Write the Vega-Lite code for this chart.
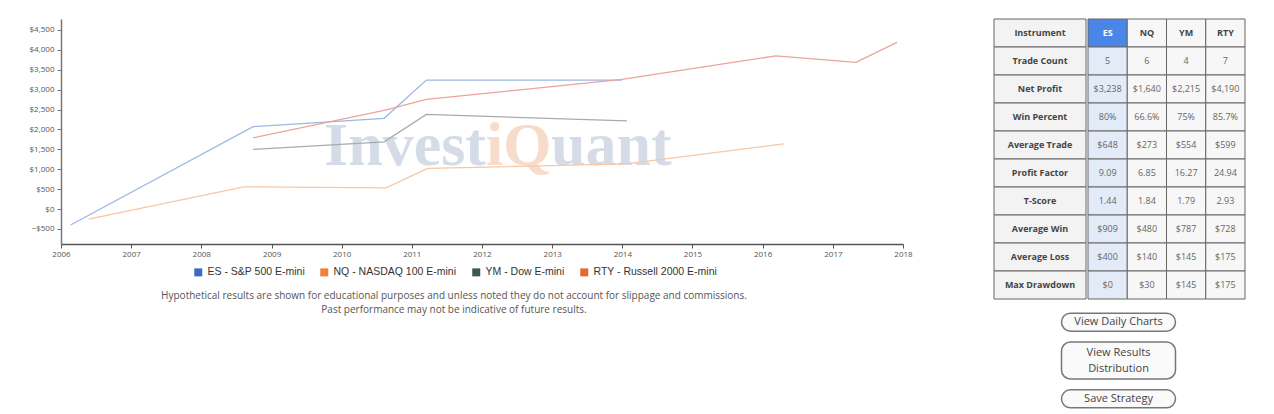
{
  "$schema": "https://vega.github.io/schema/vega-lite/v6.json",
  "background": "white",
  "padding": {"left": 29, "top": 18, "right": 0, "bottom": 0},
  "spacing": 80,
  "config": {"view": {"stroke": null}, "font": "Open Sans"},
  "datasets": {
    "pnl": [
      {"instrument": "ES - S&P 500 E-mini", "date": "2006-02-20", "value": -400},
      {"instrument": "ES - S&P 500 E-mini", "date": "2008-09-27", "value": 2070},
      {"instrument": "ES - S&P 500 E-mini", "date": "2010-08-10", "value": 2280},
      {"instrument": "ES - S&P 500 E-mini", "date": "2011-03-18", "value": 3240},
      {"instrument": "ES - S&P 500 E-mini", "date": "2013-12-30", "value": 3238},
      {"instrument": "NQ - NASDAQ 100 E-mini", "date": "2006-05-25", "value": -250},
      {"instrument": "NQ - NASDAQ 100 E-mini", "date": "2008-08-10", "value": 560},
      {"instrument": "NQ - NASDAQ 100 E-mini", "date": "2010-08-20", "value": 535},
      {"instrument": "NQ - NASDAQ 100 E-mini", "date": "2011-03-25", "value": 1022},
      {"instrument": "NQ - NASDAQ 100 E-mini", "date": "2014-01-20", "value": 1135},
      {"instrument": "NQ - NASDAQ 100 E-mini", "date": "2016-04-20", "value": 1640},
      {"instrument": "YM - Dow E-mini", "date": "2008-09-27", "value": 1500},
      {"instrument": "YM - Dow E-mini", "date": "2010-08-10", "value": 1690},
      {"instrument": "YM - Dow E-mini", "date": "2011-03-18", "value": 2380},
      {"instrument": "YM - Dow E-mini", "date": "2014-01-25", "value": 2215},
      {"instrument": "RTY - Russell 2000 E-mini", "date": "2008-09-27", "value": 1790},
      {"instrument": "RTY - Russell 2000 E-mini", "date": "2010-08-10", "value": 2480},
      {"instrument": "RTY - Russell 2000 E-mini", "date": "2011-03-18", "value": 2756},
      {"instrument": "RTY - Russell 2000 E-mini", "date": "2013-12-30", "value": 3258},
      {"instrument": "RTY - Russell 2000 E-mini", "date": "2016-03-10", "value": 3850},
      {"instrument": "RTY - Russell 2000 E-mini", "date": "2017-05-01", "value": 3686},
      {"instrument": "RTY - Russell 2000 E-mini", "date": "2017-12-01", "value": 4190}
    ],
    "metrics": [
      {"row": "Instrument"}, {"row": "Trade Count"}, {"row": "Net Profit"}, {"row": "Win Percent"},
      {"row": "Average Trade"}, {"row": "Profit Factor"}, {"row": "T-Score"}, {"row": "Average Win"},
      {"row": "Average Loss"}, {"row": "Max Drawdown"}
    ],
    "cells": [
      {"col": "ES", "row": "Instrument", "text": "ES"},
      {"col": "NQ", "row": "Instrument", "text": "NQ"},
      {"col": "YM", "row": "Instrument", "text": "YM"},
      {"col": "RTY", "row": "Instrument", "text": "RTY"},
      {"col": "ES", "row": "Trade Count", "text": "5"},
      {"col": "NQ", "row": "Trade Count", "text": "6"},
      {"col": "YM", "row": "Trade Count", "text": "4"},
      {"col": "RTY", "row": "Trade Count", "text": "7"},
      {"col": "ES", "row": "Net Profit", "text": "$3,238"},
      {"col": "NQ", "row": "Net Profit", "text": "$1,640"},
      {"col": "YM", "row": "Net Profit", "text": "$2,215"},
      {"col": "RTY", "row": "Net Profit", "text": "$4,190"},
      {"col": "ES", "row": "Win Percent", "text": "80%"},
      {"col": "NQ", "row": "Win Percent", "text": "66.6%"},
      {"col": "YM", "row": "Win Percent", "text": "75%"},
      {"col": "RTY", "row": "Win Percent", "text": "85.7%"},
      {"col": "ES", "row": "Average Trade", "text": "$648"},
      {"col": "NQ", "row": "Average Trade", "text": "$273"},
      {"col": "YM", "row": "Average Trade", "text": "$554"},
      {"col": "RTY", "row": "Average Trade", "text": "$599"},
      {"col": "ES", "row": "Profit Factor", "text": "9.09"},
      {"col": "NQ", "row": "Profit Factor", "text": "6.85"},
      {"col": "YM", "row": "Profit Factor", "text": "16.27"},
      {"col": "RTY", "row": "Profit Factor", "text": "24.94"},
      {"col": "ES", "row": "T-Score", "text": "1.44"},
      {"col": "NQ", "row": "T-Score", "text": "1.84"},
      {"col": "YM", "row": "T-Score", "text": "1.79"},
      {"col": "RTY", "row": "T-Score", "text": "2.93"},
      {"col": "ES", "row": "Average Win", "text": "$909"},
      {"col": "NQ", "row": "Average Win", "text": "$480"},
      {"col": "YM", "row": "Average Win", "text": "$787"},
      {"col": "RTY", "row": "Average Win", "text": "$728"},
      {"col": "ES", "row": "Average Loss", "text": "$400"},
      {"col": "NQ", "row": "Average Loss", "text": "$140"},
      {"col": "YM", "row": "Average Loss", "text": "$145"},
      {"col": "RTY", "row": "Average Loss", "text": "$175"},
      {"col": "ES", "row": "Max Drawdown", "text": "$0"},
      {"col": "NQ", "row": "Max Drawdown", "text": "$30"},
      {"col": "YM", "row": "Max Drawdown", "text": "$145"},
      {"col": "RTY", "row": "Max Drawdown", "text": "$175"}
    ],
    "buttons": [
      {"b": "View Daily Charts", "label": "View Daily Charts"},
      {"b": "View Results Distribution", "label": "View Results\nDistribution"},
      {"b": "Save Strategy", "label": "Save Strategy"}
    ]
  },
  "hconcat": [
    {
      "width": 842,
      "height": 225,
      "title": {
        "text": ["Hypothetical results are shown for educational purposes and unless noted they do not account for slippage and commissions.", "Past performance may not be indicative of future results."],
        "orient": "bottom", "anchor": "middle", "fontSize": 10, "fontWeight": "normal", "color": "#555",
        "font": "Open Sans", "offset": 33, "dx": -28, "lineHeight": 14
      },
      "encoding": {
        "x": {
          "field": "date", "type": "temporal",
          "scale": {"domain": [{"year": 2006, "month": 1, "date": 1}, {"year": 2018, "month": 1, "date": 1}], "nice": false},
          "axis": {
            "title": null, "format": "%Y", "grid": false, "tickCount": {"interval": "year", "step": 1},
            "labelFontSize": 8, "labelColor": "#555", "domainColor": "#555", "domainWidth": 1.5,
            "tickColor": "#555", "tickSize": 4, "labelPadding": 2, "labelFlush": false, "labelOverlap": false
          }
        },
        "y": {
          "field": "value", "type": "quantitative",
          "scale": {"domain": [-877, 4776], "nice": false, "zero": false},
          "axis": {
            "title": null, "format": "$,.0f", "grid": false,
            "values": [-500, 0, 500, 1000, 1500, 2000, 2500, 3000, 3500, 4000, 4500],
            "labelFontSize": 8, "labelColor": "#555", "domainColor": "#777", "domainWidth": 1.5,
            "tickColor": "#777", "tickSize": 4, "labelPadding": 3
          }
        }
      },
      "layer": [
        {
          "data": {"values": [{"date": "2012-01-22", "value": 1106}]},
          "mark": {"type": "text", "text": "Invest", "align": "right", "baseline": "alphabetic", "font": "Liberation Serif", "fontWeight": "bold", "fontSize": 62, "color": "#d5dce7"}
        },
        {
          "data": {"values": [{"date": "2012-01-22", "value": 1106}]},
          "mark": {"type": "text", "text": "iQ", "align": "left", "baseline": "alphabetic", "font": "Liberation Serif", "fontWeight": "bold", "fontSize": 62, "color": "#f8dccb"}
        },
        {
          "data": {"values": [{"date": "2012-01-22", "value": 1106}]},
          "mark": {"type": "text", "text": "uant", "align": "left", "dx": 65, "baseline": "alphabetic", "font": "Liberation Serif", "fontWeight": "bold", "fontSize": 62, "color": "#d5dce7"}
        },
        {
          "data": {"name": "pnl"},
          "mark": {"type": "line", "strokeWidth": 1.3},
          "encoding": {
            "color": {
              "field": "instrument", "type": "nominal",
              "scale": {
                "domain": ["ES - S&P 500 E-mini", "NQ - NASDAQ 100 E-mini", "YM - Dow E-mini", "RTY - Russell 2000 E-mini"],
                "range": ["#9db8e2", "#f9c6a2", "#a9abaa", "#eba39c"]
              },
              "legend": {
                "orient": "none", "legendX": 132, "legendY": 248, "direction": "horizontal", "title": null,
                "symbolType": "square", "symbolSize": 64, "symbolStrokeWidth": 0, "symbolOpacity": 1,
                "labelFontSize": 10.5, "labelColor": "#333", "labelFont": "Liberation Sans",
                "columnPadding": 14,
                "encode": {
                  "symbols": {
                    "update": {
                      "fill": {"signal": "datum.value === 'ES - S&P 500 E-mini' ? '#3a6cc2' : datum.value === 'NQ - NASDAQ 100 E-mini' ? '#f0803a' : datum.value === 'YM - Dow E-mini' ? '#3b5b4a' : '#e46b2c'"},
                      "stroke": {"value": "transparent"},
                      "opacity": {"value": 1}
                    }
                  }
                }
              }
            }
          }
        }
      ]
    },
    {
      "spacing": 3,
      "vconcat": [
        {
          "spacing": 0,
          "hconcat": [
            {
              "width": 92,
              "height": 280,
              "data": {"name": "metrics"},
              "encoding": {
                "y": {
                  "field": "row", "type": "nominal", "axis": null,
                  "scale": {"domain": ["Instrument", "Trade Count", "Net Profit", "Win Percent", "Average Trade", "Profit Factor", "T-Score", "Average Win", "Average Loss", "Max Drawdown"], "paddingInner": 0, "paddingOuter": 0}
                }
              },
              "layer": [
                {"mark": {"type": "rect", "fill": "#f3f3f3", "stroke": "#666", "strokeWidth": 1}},
                {"mark": {"type": "text", "fontWeight": "bold", "fontSize": 9, "color": "#444", "font": "Open Sans"}, "encoding": {"text": {"field": "row"}}}
              ]
            },
            {
              "width": 157,
              "height": 280,
              "data": {"name": "cells"},
              "encoding": {
                "x": {"field": "col", "type": "nominal", "axis": null, "scale": {"domain": ["ES", "NQ", "YM", "RTY"], "paddingInner": 0, "paddingOuter": 0}},
                "y": {
                  "field": "row", "type": "nominal", "axis": null,
                  "scale": {"domain": ["Instrument", "Trade Count", "Net Profit", "Win Percent", "Average Trade", "Profit Factor", "T-Score", "Average Win", "Average Loss", "Max Drawdown"], "paddingInner": 0, "paddingOuter": 0}
                }
              },
              "layer": [
                {
                  "mark": {"type": "rect", "stroke": "#666", "strokeWidth": 1},
                  "encoding": {
                    "fill": {
                      "condition": [
                        {"test": "datum.col === 'ES' && datum.row === 'Instrument'", "value": "#4a86e8"},
                        {"test": "datum.col === 'ES'", "value": "#e4ebf8"}
                      ],
                      "value": "#f7f7f7"
                    }
                  }
                },
                {
                  "transform": [{"filter": "datum.row === 'Instrument'"}],
                  "mark": {"type": "text", "fontWeight": "bold", "fontSize": 9, "font": "Open Sans"},
                  "encoding": {
                    "text": {"field": "text"},
                    "color": {"condition": {"test": "datum.col === 'ES'", "value": "#ffffff"}, "value": "#444"}
                  }
                },
                {
                  "transform": [{"filter": "datum.row !== 'Instrument'"}],
                  "mark": {"type": "text", "fontSize": 9, "color": "#666", "font": "Open Sans"},
                  "encoding": {"text": {"field": "text"}}
                }
              ]
            }
          ]
        },
        {
          "width": 249,
          "height": 115,
          "data": {"name": "buttons"},
          "encoding": {
            "x": {"datum": "button", "type": "nominal", "axis": null, "scale": {"paddingInner": 0, "paddingOuter": 0.592}},
            "y": {"field": "b", "type": "nominal", "axis": null, "scale": {"domain": ["View Daily Charts", "View Results Distribution", "Save Strategy"], "paddingInner": 0, "paddingOuter": 0}}
          },
          "layer": [
            {
              "transform": [{"filter": "datum.b !== 'View Results Distribution'"}],
              "mark": {"type": "rect", "height": 18, "cornerRadius": 9, "fill": "#fafafa", "stroke": "#777", "strokeWidth": 1.5}
            },
            {
              "transform": [{"filter": "datum.b === 'View Results Distribution'"}],
              "mark": {"type": "rect", "height": 37, "cornerRadius": 9, "fill": "#fafafa", "stroke": "#777", "strokeWidth": 1.5}
            },
            {
              "transform": [{"filter": "datum.b !== 'View Results Distribution'"}],
              "mark": {"type": "text", "fontSize": 11, "color": "#444", "font": "Open Sans"},
              "encoding": {"text": {"field": "label"}}
            },
            {
              "transform": [{"filter": "datum.b === 'View Results Distribution'"}],
              "mark": {"type": "text", "fontSize": 11, "color": "#444", "font": "Open Sans", "lineBreak": "\n", "lineHeight": 16, "dy": -8},
              "encoding": {"text": {"field": "label"}}
            }
          ]
        }
      ]
    }
  ]
}
